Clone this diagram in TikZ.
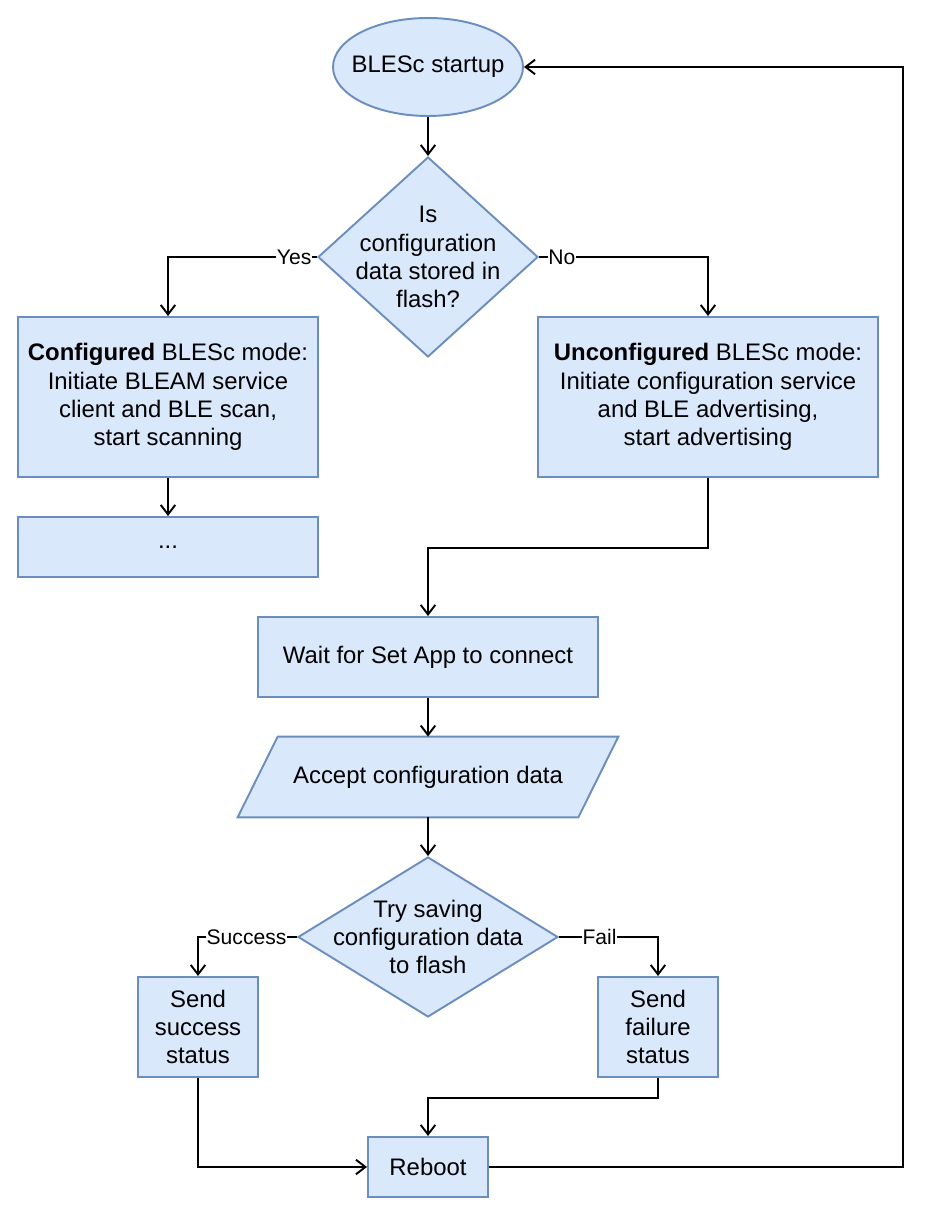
\documentclass[tikz,border=0pt]{standalone}
\usepackage{fontspec}
\setsansfont{Liberation Sans}
\usetikzlibrary{arrows.meta,shapes.geometric,backgrounds}
\definecolor{boxfill}{HTML}{DAE8FC}
\definecolor{boxline}{HTML}{6C8EBF}
\tikzset{
  body/.style={font=\sffamily\fontsize{13.6}{16}\selectfont,text=black,align=center},
  lbl/.style={font=\sffamily\fontsize{12}{13}\selectfont,text=black,fill=white,inner sep=0.5pt},
  stepbox/.style={body,rectangle,draw=boxline,fill=boxfill,line width=1.1pt,inner sep=0pt},
  startnode/.style={body,ellipse,draw=boxline,fill=boxfill,line width=1.1pt,inner sep=0pt,minimum width=3.8cm,minimum height=1.96cm},
  decision/.style={body,diamond,draw=boxline,fill=boxfill,line width=1.1pt,inner sep=0pt},
  datanode/.style={body,rectangle,inner sep=0pt},
  datashape/.style={draw=boxline,fill=boxfill,line width=1.1pt,line join=miter},
  arr/.style={-{Straight Barb[length=1.9mm,width=2.9mm]},draw=black,line width=1.1pt}
}
\begin{document}
\begin{tikzpicture}[x=1cm,y=1cm]
\path[use as bounding box] (0,0) rectangle (18.88,24.48);
% startup and first decision
\node[startnode,label={[body]center:BLESc startup}] (start) at (8.56,23.14) {};
\node[decision,minimum width=4.4cm,minimum height=4cm,label={[body]center:Is\\configuration\\data stored in\\flash?}] (stored) at (8.56,19.34) {};
% the two modes
\node[stepbox,minimum width=6cm,minimum height=3.2cm] (conf) at (3.36,16.54) {\textbf{Configured} BLESc mode:\\Initiate BLEAM service\\client and BLE scan,\\start scanning};
\node[stepbox,minimum width=6.8cm,minimum height=3.2cm] (unconf) at (14.16,16.54) {\textbf{Unconfigured} BLESc mode:\\Initiate configuration service\\and BLE advertising,\\start advertising};
\node[stepbox,minimum width=6cm,minimum height=1.2cm] (dots) at (3.36,13.54) {...};
% configuration path
\node[stepbox,minimum width=6.8cm,minimum height=1.6cm] (wait) at (8.56,11.34) {Wait for Set App to connect};
\node[datanode,minimum width=6.8cm,minimum height=1.6cm] (accept) at (8.56,8.94) {Accept configuration data};
\begin{scope}[on background layer]
\draw[datashape] ([xshift=-4mm]accept.south west) -- ([xshift=4mm]accept.north west) -- ([xshift=4mm]accept.north east) -- ([xshift=-4mm]accept.south east) -- cycle;
\end{scope}
\node[decision,minimum width=5.2cm,minimum height=3.2cm,label={[body]center:Try saving\\configuration data\\to flash}] (save) at (8.56,5.74) {};
\node[stepbox,minimum width=2.4cm,minimum height=2cm] (succ) at (3.96,3.94) {Send\\success\\status};
\node[stepbox,minimum width=2.4cm,minimum height=2cm] (fail) at (13.16,3.94) {Send\\failure\\status};
\node[stepbox,minimum width=2.4cm,minimum height=1.2cm] (reboot) at (8.56,1.14) {Reboot};
\coordinate (loopc) at (18.06,1.14);
% connectors
\draw[arr] (start)--(stored);
\draw[arr] (stored.west) -| (conf.north) node[lbl,pos=0.077] {Yes};
\draw[arr] (stored.east) -| (unconf.north) node[lbl,pos=0.068] {No};
\draw[arr] (conf)--(dots);
\draw[arr] (unconf.south) -- ++(0,-1.4) -| (wait.north);
\draw[arr] (wait)--(accept); \draw[arr] (accept)--(save);
\draw[arr] (save.west) -| (succ.north) node[lbl,pos=0.255] {Success};
\draw[arr] (save.east) -| (fail.north) node[lbl,pos=0.205] {Fail};
\draw[arr] (succ.south) |- (reboot.west);
\draw[arr] (fail.south) -- ++(0,-0.4) -| (reboot.north);
\draw[arr] (reboot.east) -- (loopc) |- (start.east);
\end{tikzpicture}
\end{document}
